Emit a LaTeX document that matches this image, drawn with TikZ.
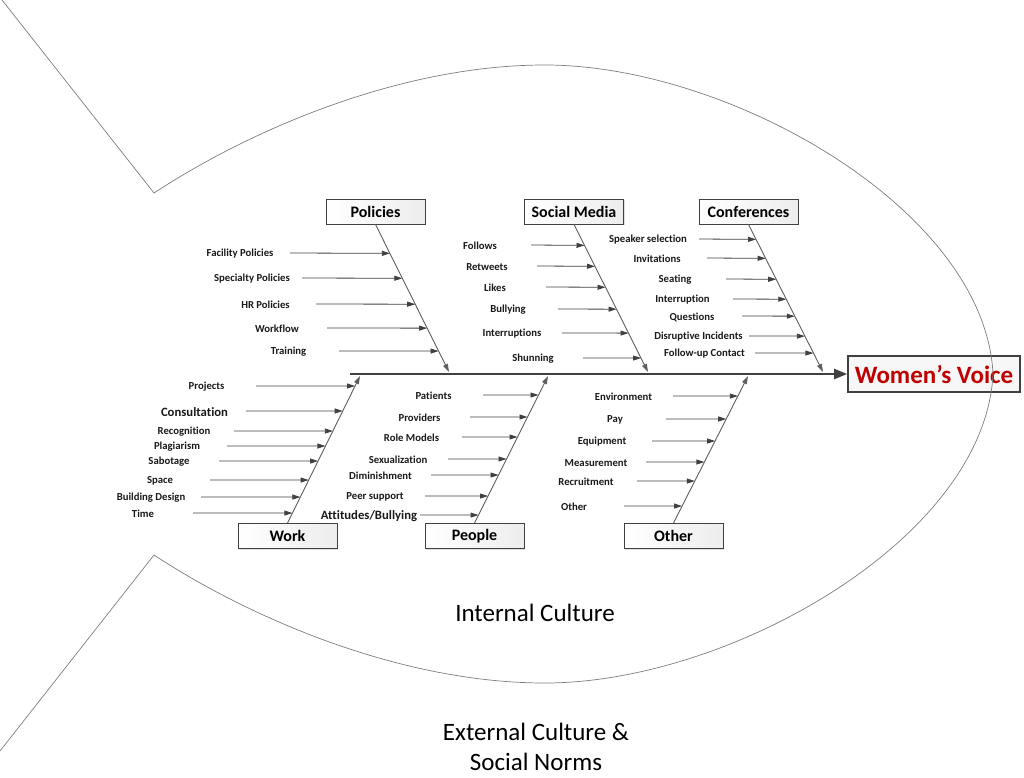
\documentclass[tikz,border=0pt]{standalone}
\usepackage{fontspec}
\setmainfont{Carlito}[Ligatures={NoCommon}]
\usepackage{xcolor}
\usepackage{tikz}
\usetikzlibrary{arrows.meta, positioning, calc, shadows}
\definecolor{voicered}{RGB}{192, 0, 0}
\definecolor{linegray}{RGB}{64, 64, 64}
\definecolor{fishgray}{RGB}{125, 125, 125}

\begin{document}
\begin{tikzpicture}[x=1pt, y=-1pt,
  cat/.style={draw=linegray, line width=0.9pt, left color=white, right color=gray!14,
              minimum width=99pt, minimum height=25pt, inner sep=0pt,
              font=\fontsize{16}{18}\selectfont\bfseries,
              drop shadow={shadow xshift=1.2pt, shadow yshift=-1.2pt, opacity=0.25}},
  effect/.style={draw=linegray, line width=1.6pt, fill=gray!6, minimum width=172pt,
                 minimum height=36pt, inner sep=0pt, text=voicered,
                 font=\fontsize{25}{28}\selectfont\bfseries},
  cause/.style={font=\fontsize{10.7}{12}\selectfont\bfseries, text=black!90, yshift=-1pt},
  bigcause/.style={font=\fontsize{12.7}{14}\selectfont\bfseries, text=black!90, yshift=-1pt},
  bone/.style={draw=linegray!85, line width=0.9pt, -{Triangle[length=8pt,width=5pt]}},
  sub/.style={draw=linegray, line width=0.8pt, -{Triangle[length=8pt,width=5pt]}},
  spine/.style={draw=linegray, line width=2pt, -{Triangle[length=13pt,width=10pt]}},
  fish/.style={draw=fishgray, line width=0.7pt},
  culture/.style={font=\fontsize{25}{30}\selectfont, align=center},
]
  \useasboundingbox (0,0) rectangle (1024,778);

  % --- category boxes ---
  \node[cat] (pol)  at (375.5,211.5) {Policies};
  \node[cat] (soc)  at (574,211.5)   {Social Media};
  \node[cat] (conf) at (748.5,211.5) {Conferences};
  \node[cat] (work) at (287.5,536)   {Work};
  \node[cat] (ppl)  at (474.5,536)   {People};
  \node[cat] (oth)  at (673.5,536)   {Other};
  \node[effect] (voice) at (934,374) {Women’s Voice};

  % --- spine and bones ---
  \draw[spine] (350,374) -- (voice.west);
  \coordinate (polend)  at (449,372);
  \coordinate (socend)  at (648,372);
  \coordinate (confend) at (823,372);
  \coordinate (workend) at (360,376);
  \coordinate (pplend)  at (548,376);
  \coordinate (othend)  at (748,376);
  \draw[bone] (pol.south)  -- (polend);
  \draw[bone] (soc.south)  -- (socend);
  \draw[bone] (conf.south) -- (confend);
  \draw[bone] (work.north) -- (workend);
  \draw[bone] (ppl.north)  -- (pplend);
  \draw[bone] (oth.north)  -- (othend);

  % Policies causes
  \foreach \txt/\tx/\y/\xs in {
    Facility Policies/240/253/290,
    Specialty Policies/252/278/302,
    HR Policies/265.5/304/316,
    Workflow/277/328/327,
    Training/288.5/351/339
  } {
    \node[cause] (pol-\y) at (\tx,\y) {\txt};
    \draw[sub] (\xs,\y) -- ($(pol.south)!{(\y-224)/148}!(polend)$);
  }

  % Social Media causes
  \foreach \txt/\tx/\y/\xs in {
    Follows/480/245/531,
    Retweets/487/266/537,
    Likes/495/287/546,
    Bullying/508/309/558,
    Interruptions/512/333/562,
    Shunning/533/358/583
  } {
    \node[cause] (soc-\y) at (\tx,\y) {\txt};
    \draw[sub] (\xs,\y) -- ($(soc.south)!{(\y-224)/148}!(socend)$);
  }

  % Conferences causes
  \foreach \txt/\tx/\y/\xs in {
    Speaker selection/648/239/699,
    Invitations/657/258/707,
    Seating/675/279/726,
    Interruption/682.5/299/733,
    Questions/692/316/742,
    Disruptive Incidents/698.5/336/749,
    Follow-up Contact/704.5/353/755
  } {
    \node[cause] (conf-\y) at (\tx,\y) {\txt};
    \draw[sub] (\xs,\y) -- ($(conf.south)!{(\y-224)/148}!(confend)$);
  }

  % Work causes
  \foreach \txt/\sty/\tx/\y/\xs in {
    Projects/cause/206.5/386/256,
    Consultation/bigcause/194.5/411/246,
    Recognition/cause/184/431/234,
    Plagiarism/cause/177/446/227,
    Sabotage/cause/169/461/219,
    Space/cause/160/480/210,
    Building Design/cause/151/497/201,
    Time/cause/143/513/193
  } {
    \node[\sty] (work-\y) at (\tx,\y) {\txt};
    \draw[sub] (\xs,\y) -- ($(work.north)!{(523-\y)/147}!(workend)$);
  }

  % People causes
  \foreach \txt/\sty/\tx/\y/\xs in {
    Patients/cause/433.5/395/483,
    Providers/cause/419.5/417/470,
    Role Models/cause/411.5/437/462,
    Sexualization/cause/398/459/448,
    Diminishment/cause/380.5/475/431,
    Peer support/cause/375/496/425,
    {Attitudes/Bullying}/bigcause/369/515/420
  } {
    \node[\sty] (ppl-\y) at (\tx,\y) {\txt};
    \draw[sub] (\xs,\y) -- ($(ppl.north)!{(523-\y)/147}!(pplend)$);
  }

  % Other causes
  \foreach \txt/\tx/\y/\xs in {
    Environment/623.5/396/673,
    Pay/615/419/666,
    Equipment/602/441/652,
    Measurement/596/462/646,
    Recruitment/586/481/637,
    Other/574/506/624
  } {
    \node[cause] (oth-\y) at (\tx,\y) {\txt};
    \draw[sub] (\xs,\y) -- ($(oth.north)!{(523-\y)/147}!(othend)$);
  }

  % --- fish outline ---
  \draw[fish] (2,0) -- (154,193)
    .. controls (250,130) and (400,65) .. (545,65)
    .. controls (730,65) and (985,210) .. (993,374)
    .. controls (985,538) and (730,683) .. (545,683)
    .. controls (400,683) and (250,618) .. (154,555) -- (0,751);

  % culture labels
  \node[culture] (inner) at (535,613) {Internal Culture};
  \node[culture] (outer) at (536,747) {External Culture \&\\Social Norms};

\end{tikzpicture}
\end{document}
